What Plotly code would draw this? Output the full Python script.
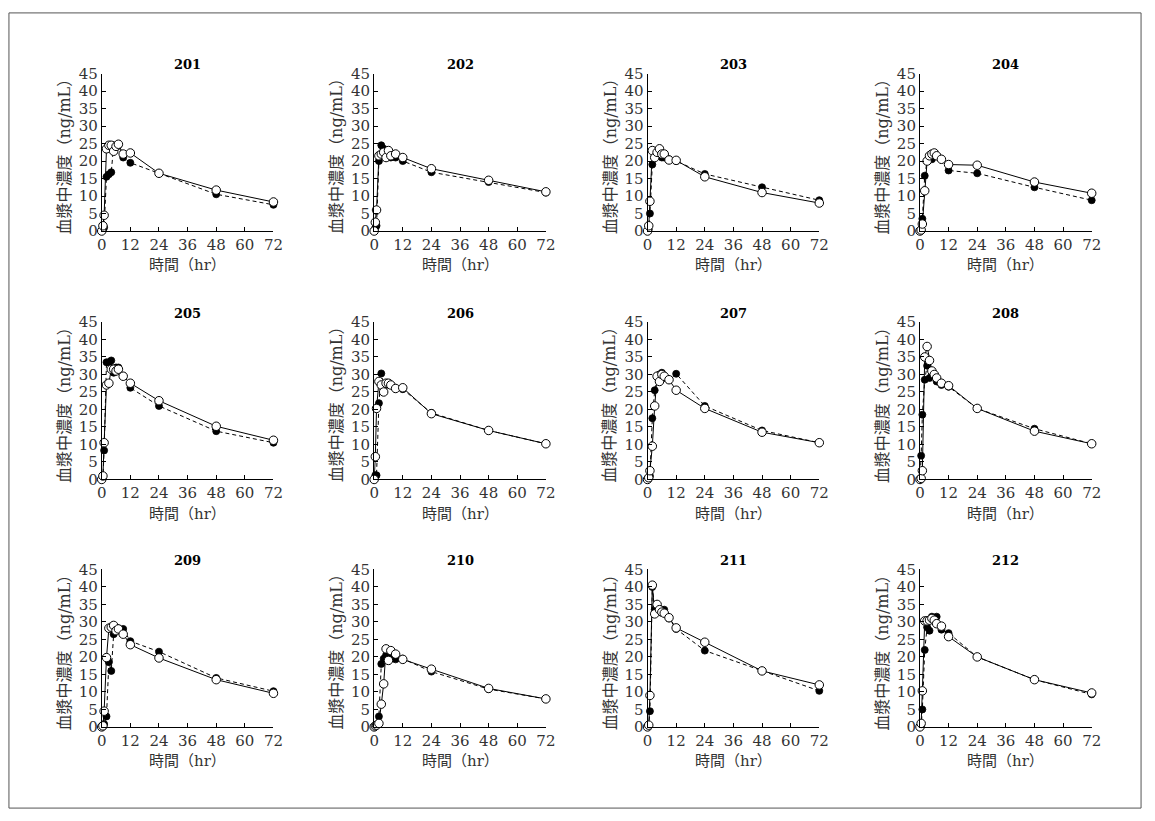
import plotly.graph_objects as go

W, H = 1155, 821

times = [0, 0.5, 1, 2, 3, 4, 5, 6, 7, 9, 12, 24, 48, 72]
subjects = ["201", "202", "203", "204", "205", "206", "207", "208", "209", "210", "211", "212"]

filled_201 = [0, 0.5, 1, 15.5, 16.2, 16.8, 24.5, 24, 24.5, 21, 19.5, 16.5, 10.5, 7.5]
open_201 = [0, 1.5, 4.5, 23.5, 24.5, 24.5, 22.8, 24.2, 24.8, 22, 22.3, 16.5, 11.7, 8.3]
filled_202 = [0, 1, 1.5, 20, 24.5, 23.5, 22, 22, 21, 21, 20, 16.8, 14, 11]
open_202 = [0, 2.5, 6, 21.5, 22, 22.5, 21, 23, 21.5, 22, 21, 17.8, 14.5, 11.2]
filled_203 = [0, 0.5, 5, 19, 21.5, 22, 22.5, 21, 21, 20.5, 20, 16.3, 12.5, 8.8]
open_203 = [0, 1.5, 8.5, 23, 21, 22.5, 23.5, 22, 22, 20.3, 20.2, 15.5, 11, 8]
filled_204 = [0, 0.3, 3.5, 15.8, 20, 21, 20.5, 21.5, 21.5, 20.5, 17.3, 16.5, 12.5, 8.8]
open_204 = [0, 0.3, 2, 11.5, 20, 21.5, 22, 22.3, 21.5, 20.5, 19, 18.8, 14, 10.8]
filled_205 = [0, 0.5, 8.3, 33.5, 33.5, 34, 30.5, 32, 32, 29.5, 26.2, 21, 13.8, 10.5]
open_205 = [0, 1, 10.5, 27, 27.5, 31.5, 31.5, 31, 31.5, 29.5, 27.5, 22.5, 15.2, 11.2]
filled_206 = [0, 1.2, 1.2, 21.8, 30.3, 27, 27, 27.5, 27, 26, 25.8, 19, 14, 10.2]
open_206 = [0, 6.5, 20.3, 28, 27, 25, 27.5, 27.5, 27, 26, 26.2, 18.8, 14, 10.2]
filled_207 = [0, 0.5, 1, 17.5, 25.5, 29.5, 30, 30.5, 29, 28.5, 30.2, 21, 14, 10.5]
open_207 = [0, 0.5, 2.5, 9.5, 21, 29.5, 28, 30, 29.5, 28.5, 25.5, 20.3, 13.5, 10.5]
filled_208 = [0, 6.8, 18.5, 28.5, 32.5, 29, 29.5, 29.5, 28, 27, 26.5, 20.3, 14.5, 10.2]
open_208 = [0, 0.3, 2.5, 35, 38, 34, 31, 30, 29, 27.5, 26.8, 20.3, 13.8, 10.2]
filled_209 = [0, 0.3, 0.8, 3, 18.5, 16, 26.5, 28.5, 28, 28, 24.5, 21.5, 14, 10.2]
open_209 = [0, 0.3, 4.5, 19.8, 28.2, 28.5, 29, 27.5, 28, 26.5, 23.5, 19.7, 13.5, 9.6]
filled_210 = [0, 0.3, 0.5, 3, 18, 19.5, 20.5, 20.5, 20, 19.3, 19.5, 15.8, 10.8, 8]
open_210 = [0, 0.3, 0.5, 1, 6.5, 12.3, 22.3, 19, 21.8, 20.8, 19.3, 16.5, 11, 8]
filled_211 = [0, 0.3, 4.5, 40, 33.5, 33, 33.5, 33.5, 33.5, 31, 28, 21.8, 16, 10.3]
open_211 = [0, 0.5, 9, 40.5, 32.3, 35, 33.5, 32.8, 32.5, 31.2, 28.3, 24.2, 16, 12]
filled_212 = [0, 0.3, 5, 22, 28.5, 27.5, 31.5, 31, 31.5, 27.8, 26.8, 20, 13.5, 9.3]
open_212 = [0, 1, 10.3, 30.3, 30.3, 30.5, 31, 30.5, 29.5, 28.8, 25.8, 20, 13.5, 9.7]

filled_series = [filled_201, filled_202, filled_203, filled_204, filled_205, filled_206,
                 filled_207, filled_208, filled_209, filled_210, filled_211, filled_212]
open_series = [open_201, open_202, open_203, open_204, open_205, open_206,
               open_207, open_208, open_209, open_210, open_211, open_212]

x_ticks = [0, 12, 24, 36, 48, 60, 72]
y_ticks = [0, 5, 10, 15, 20, 25, 30, 35, 40, 45]
x_title = "時間（hr）"
y_title = "血漿中濃度（ng/mL）"

FONT = "DejaVu Serif, Noto Sans CJK JP, serif"
col_x0 = [98, 374, 651, 927]
plot_w = 174
row_top = [66, 320, 573]
row_bot = [227, 481, 734]

fig = go.Figure()
annotations = []
layout_axes = {}

for i, name in enumerate(subjects):
    r, c = divmod(i, 4)
    n = i + 1
    xa = "x" if n == 1 else f"x{n}"
    ya = "y" if n == 1 else f"y{n}"
    xkey = "xaxis" if n == 1 else f"xaxis{n}"
    ykey = "yaxis" if n == 1 else f"yaxis{n}"
    x0 = col_x0[c]
    x1 = x0 + plot_w
    yt, yb = row_top[r], row_bot[r]

    fig.add_trace(go.Scatter(
        x=times, y=filled_series[i], xaxis=xa, yaxis=ya, mode="lines+markers",
        line=dict(color="black", width=1, dash="4px,3px"),
        marker=dict(symbol="circle", size=7, color="black", line=dict(color="black", width=0.8)),
        cliponaxis=False, showlegend=False, hoverinfo="skip"))
    fig.add_trace(go.Scatter(
        x=times, y=open_series[i], xaxis=xa, yaxis=ya, mode="lines+markers",
        line=dict(color="black", width=1),
        marker=dict(symbol="circle", size=8.5, color="white", line=dict(color="black", width=1)),
        cliponaxis=False, showlegend=False, hoverinfo="skip"))

    layout_axes[xkey] = dict(
        domain=[x0 / W, x1 / W], range=[0, 72], anchor=ya,
        tickvals=x_ticks, ticktext=[str(v) for v in x_ticks],
        ticks="inside", ticklen=4, tickcolor="black", showline=True,
        linecolor="black", linewidth=1, showgrid=False, zeroline=False,
        tickfont=dict(family=FONT, size=15, color="#333333"), fixedrange=True)
    layout_axes[ykey] = dict(
        domain=[1 - yb / H, 1 - yt / H], range=[0, 45], anchor=xa,
        tickvals=y_ticks, ticktext=[str(v) for v in y_ticks],
        ticks="inside", ticklen=4, tickcolor="black", showline=True,
        linecolor="black", linewidth=1, showgrid=False, zeroline=False,
        tickfont=dict(family=FONT, size=15, color="#333333"), fixedrange=True)

    annotations.append(dict(
        text=f"<b>{name}</b>", x=(x0 + x1) / 2 / W, y=1 - (yt - 9) / H, xref="paper", yref="paper",
        xanchor="center", yanchor="middle", showarrow=False,
        font=dict(family=FONT, size=13, color="black")))
    annotations.append(dict(
        text=x_title, x=(x0 + x1) / 2 / W, y=1 - (yb + 35) / H, xref="paper", yref="paper",
        xanchor="center", yanchor="middle", showarrow=False,
        font=dict(family=FONT, size=15, color="#333333")))
    annotations.append(dict(
        text=y_title, x=(x0 - 38) / W, y=1 - (yt + yb) / 2 / H, xref="paper", yref="paper",
        xanchor="center", yanchor="middle", showarrow=False, textangle=-90,
        font=dict(family=FONT, size=16, color="#333333")))

fig.update_layout(
    width=W, height=H, margin=dict(l=0, r=0, t=0, b=0),
    paper_bgcolor="white", plot_bgcolor="white",
    annotations=annotations, hovermode=False,
    shapes=[dict(type="rect", xref="paper", yref="paper", x0=4 / W, x1=1 - 4 / W,
                 y0=4 / H, y1=1 - 4 / H, line=dict(color="#555555", width=1))],
    **layout_axes)

fig.write_html(
    "out.html",
    config={"displayModeBar": False, "staticPlot": True},
    post_script="document.body.style.margin='0';document.body.style.padding='0';"
                "document.body.style.overflow='hidden';")
